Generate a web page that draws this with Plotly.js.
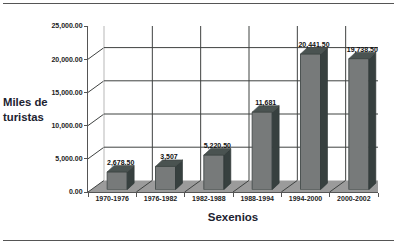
<!DOCTYPE html>
<html><head><meta charset="utf-8">
<script src="https://cdn.plot.ly/plotly-3.0.1.min.js"></script>
<style>html,body{margin:0;padding:0;background:#fff}#c{width:405px;height:244px}</style>
</head><body><div id="c"></div>
<script>
const categories = ["1970-1976","1976-1982","1982-1988","1988-1994","1994-2000","2000-2002"];
const values = [2678.5,3507,5220.5,11681,20441.5,19738.5];
const labels = ["2,678.50","3,507","5,220.50","11,681","20,441.50","19,738.50"];
const yTicks = [0,5000,10000,15000,20000,25000];
const yTickLabels = ["0.00","5,000.00","10,000.00","15,000.00","20,000.00","25,000.00"];

const W=405,H=244;
const pxX=6/290, pxY=25000/166;           // data units per pixel
const idx=categories.map((_,i)=>i);
const hw=0.207, bx=7*pxX, by=6.5*pxY;     // bar half width and bar depth
const dom=(a,b)=>[a/W,b/W], vdom=(bot,top)=>[(H-bot)/H,(H-top)/H];
const RX=[-0.5,5.5], RY=[0,25000];
const traces=[];
// structure axes share the front axes' domain: wall points are offset by the depth
const wx=16*pxX, wy=11.6*pxY;
const S={xaxis:'x3',yaxis:'y3',cliponaxis:false,hoverinfo:'skip'};
const G='#3f4241';

traces.push({type:'scatter',mode:'lines',x:[-0.5,5.5,5.5+wx,-0.5+wx,-0.5],y:[0,0,wy,wy,0],
  fill:'toself',fillcolor:'#9b9b9b',line:{width:0},...S});
yTicks.forEach(v=>traces.push({type:'scatter',mode:'lines',x:[-0.5,-0.5+wx],y:[v,v+wy],
  line:{color:v===25000?'#c4c4c4':G,width:1},...S}));
[1,2,3,4,5,6].forEach(i=>traces.push({type:'scatter',mode:'lines',x:[i-0.5,i-0.5+wx],y:[0,wy],
  line:{color:G,width:1},...S}));
traces.push({type:'scatter',mode:'lines',x:[-0.5+wx,-0.5+wx,5.5+wx],y:[wy,25000+wy,25000+wy],
  line:{color:'#c4c4c4',width:1.2},...S});
[0,1,2,3,4].forEach(i=>traces.push({type:'scatter',mode:'lines',x:[i+0.5+wx,i+0.5+wx],y:[wy,25000+wy],
  line:{color:G,width:1},...S}));
yTicks.slice(1,5).forEach(v=>traces.push({type:'scatter',mode:'lines',x:[-0.5+wx,5.5+wx],y:[v+wy,v+wy],
  line:{color:G,width:1},...S}));

// front axes carrier
traces.push({type:'bar',x:categories,y:values,marker:{opacity:0},xaxis:'x2',yaxis:'y2',hoverinfo:'skip'});

// bars
const B={xaxis:'x4',yaxis:'y4',cliponaxis:false,hoverinfo:'skip'};
idx.forEach(i=>{
  const v=values[i];
  traces.push({type:'scatter',mode:'lines',x:[i+hw,i+hw+bx,i+hw+bx,i+hw,i+hw],y:[0,by,v+by,v,0],
    fill:'toself',fillcolor:'#37403f',line:{color:'#2e3635',width:0.6},...B});
  traces.push({type:'scatter',mode:'lines',x:[i-hw,i-hw+bx,i+hw+bx,i+hw,i-hw],y:[v,v+by,v+by,v,v],
    fill:'toself',fillcolor:'#4a5351',line:{color:'#3a4240',width:0.6},...B});
});
traces.push({type:'bar',x:idx,y:values,width:2*hw,marker:{color:'#777a7a',line:{color:'#4c5352',width:1}},...B});
traces.push({type:'scatter',mode:'text',x:idx.map(i=>i+bx/2),y:values.map(v=>v+by+350),text:labels,
  textposition:'middle center',textfont:{family:'Liberation Sans',size:7,color:'#111',weight:700},...B});

const tf={family:'Liberation Sans',size:7,color:'#222',weight:700};
const layout={
  width:W,height:H,margin:{l:0,r:0,t:0,b:0},paper_bgcolor:'#fff',plot_bgcolor:'rgba(0,0,0,0)',
  showlegend:false,barmode:'overlay',
  xaxis2:{domain:dom(88,378),range:RX,type:'category',categoryorder:'array',categoryarray:categories,tickson:'boundaries',
    ticks:'outside',ticklen:4,tickcolor:'#555',tickwidth:1,showline:true,linecolor:'#555',linewidth:1,showgrid:false,zeroline:false,
    tickfont:tf,anchor:'y2',automargin:false,
    title:{text:'Sexenios',standoff:11,font:{family:'Liberation Sans',size:11.5,color:'#1c2230',weight:700}}},
  yaxis2:{domain:vdom(192,26),range:RY,tickmode:'array',tickvals:yTicks,ticktext:yTickLabels,
    ticks:'outside',ticklen:3,tickcolor:'#555',tickwidth:1,showline:true,linecolor:'#555',linewidth:1,showgrid:false,zeroline:false,
    tickfont:tf,anchor:'x2',automargin:false},
  xaxis3:{domain:dom(88,378),range:RX,type:'linear',visible:false,anchor:'y3'},
  yaxis3:{domain:vdom(192,26),range:RY,visible:false,anchor:'x3'},
  xaxis4:{domain:dom(93,383),range:RX,type:'linear',visible:false,anchor:'y4'},
  yaxis4:{domain:vdom(189.7,23.7),range:RY,visible:false,anchor:'x4'},
  shapes:[
    {type:'line',xref:'paper',yref:'paper',x0:3/W,x1:394/W,y0:(H-3.5)/H,y1:(H-3.5)/H,line:{color:'#555',width:1}},
    {type:'line',xref:'paper',yref:'paper',x0:3/W,x1:394/W,y0:(H-240.5)/H,y1:(H-240.5)/H,line:{color:'#555',width:1}}
  ],
  annotations:[{xref:'paper',yref:'paper',x:1/W,y:(H-110)/H,xanchor:'left',yanchor:'middle',align:'left',showarrow:false,
    text:'Miles de<br>turistas',font:{family:'Liberation Sans',size:11.3,color:'#1c2230',weight:700}}]
};
Plotly.newPlot('c',traces,layout,{displayModeBar:false,staticPlot:true});
</script></body></html>
